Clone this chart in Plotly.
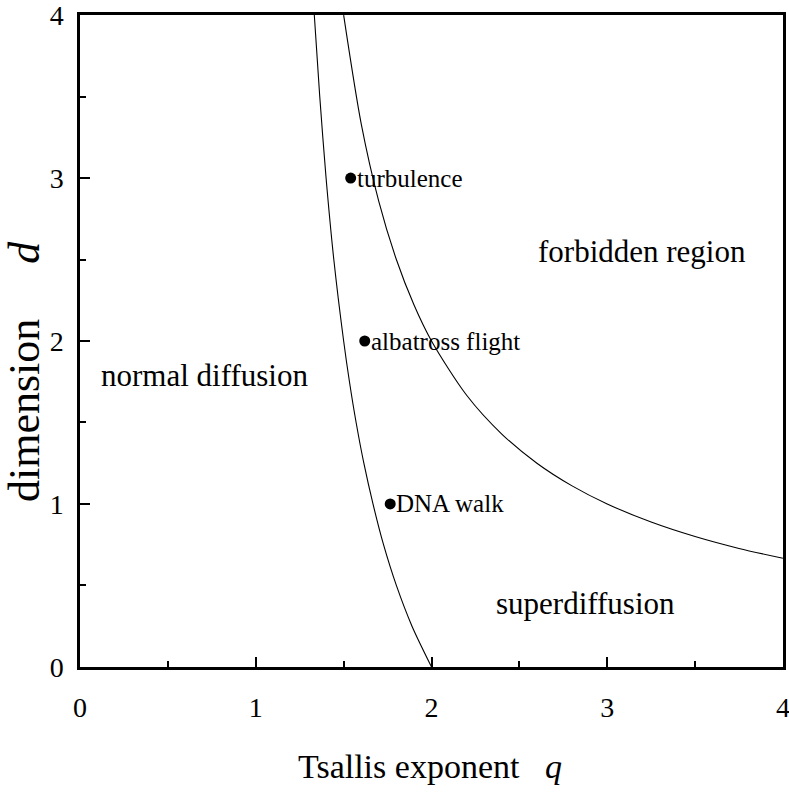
import plotly.graph_objects as go

# Boundary between normal diffusion and superdiffusion
left_d = [0.0, 0.25, 0.5, 0.75, 1.0, 1.25, 1.5, 1.75, 2.0, 2.5, 3.0, 3.5, 4.0]
left_q = [2.000, 1.889, 1.800, 1.727, 1.667, 1.615, 1.571, 1.533, 1.500, 1.444, 1.400, 1.364, 1.333]

# Boundary of the forbidden region
right_q = [1.5, 1.6, 1.7, 1.8, 1.9, 2.0, 2.2, 2.4, 2.6, 2.8, 3.0, 3.25, 3.5, 3.75, 4.0]
right_d = [4.000, 3.333, 2.857, 2.500, 2.222, 2.000, 1.667, 1.429, 1.250, 1.111, 1.000, 0.889, 0.800, 0.727, 0.667]

# Observed systems
point_names = ["turbulence", "albatross flight", "DNA walk"]
point_q = [1.54, 1.62, 1.765]
point_d = [3.0, 2.0, 1.0]

# Region labels
region_names = ["normal diffusion", "forbidden region", "superdiffusion"]
region_q = [0.71, 3.2, 2.875]
region_d = [1.79, 2.55, 0.39]

tick_vals = [0, 1, 2, 3, 4]
tick_text = ["0", "1", "2", "3", "4"]

FONT = "Liberation Serif, Times New Roman, serif"

fig = go.Figure()
fig.add_trace(go.Scatter(x=left_q, y=left_d, mode="lines",
                         line=dict(color="black", width=1.1, shape="spline", smoothing=0.8),
                         showlegend=False, hoverinfo="skip"))
fig.add_trace(go.Scatter(x=right_q, y=right_d, mode="lines",
                         line=dict(color="black", width=1.1, shape="spline", smoothing=0.8),
                         showlegend=False, hoverinfo="skip"))
fig.add_trace(go.Scatter(x=point_q, y=point_d, mode="markers",
                         marker=dict(color="black", size=11),
                         showlegend=False, hoverinfo="skip"))

for name, q, d in zip(point_names, point_q, point_d):
    fig.add_annotation(x=q, y=d, text=name, showarrow=False, xanchor="left",
                       yanchor="middle", xshift=4,
                       font=dict(family=FONT, size=25, color="black"))

for name, q, d in zip(region_names, region_q, region_d):
    fig.add_annotation(x=q, y=d, text=name, showarrow=False, xanchor="center",
                       yanchor="middle",
                       font=dict(family=FONT, size=31, color="black"))

# Axis titles
fig.add_annotation(xref="paper", yref="paper", x=(430 - 80) / 703, y=-(766 - 667) / 652,
                   text="Tsallis exponent&nbsp;&nbsp;&nbsp;<i>q</i>", showarrow=False,
                   xanchor="center", yanchor="middle",
                   font=dict(family=FONT, size=34, color="black"))
fig.add_annotation(xref="paper", yref="paper", x=-(80 - 24) / 703, y=(667 - 372) / 652,
                   text="dimension&nbsp;&nbsp;&nbsp;&nbsp;&nbsp;<i>d</i>", showarrow=False,
                   textangle=-90, xanchor="center", yanchor="middle",
                   font=dict(family=FONT, size=44, color="black"))

axis_common = dict(
    range=[-0.0005, 4.0005], showgrid=False, zeroline=False,
    showline=True, linecolor="black", linewidth=2.5, mirror=True,
    ticks="inside", ticklen=10, tickwidth=1.8, tickcolor="black",
    tickvals=tick_vals, ticktext=tick_text, ticklabeloverflow="allow",
    automargin=False,
    tickfont=dict(family=FONT, size=28, color="black"),
    minor=dict(ticks="inside", ticklen=6, tickwidth=1.5, tickcolor="black", dtick=0.5, tick0=0),
)

fig.update_layout(
    width=789, height=796,
    margin=dict(l=80, r=6, t=15, b=129, autoexpand=False),
    plot_bgcolor="white", paper_bgcolor="white",
    xaxis=dict(**axis_common, ticklabelstandoff=14),
    yaxis=dict(**axis_common, ticklabelstandoff=8),
)

fig.write_html("out.html")
